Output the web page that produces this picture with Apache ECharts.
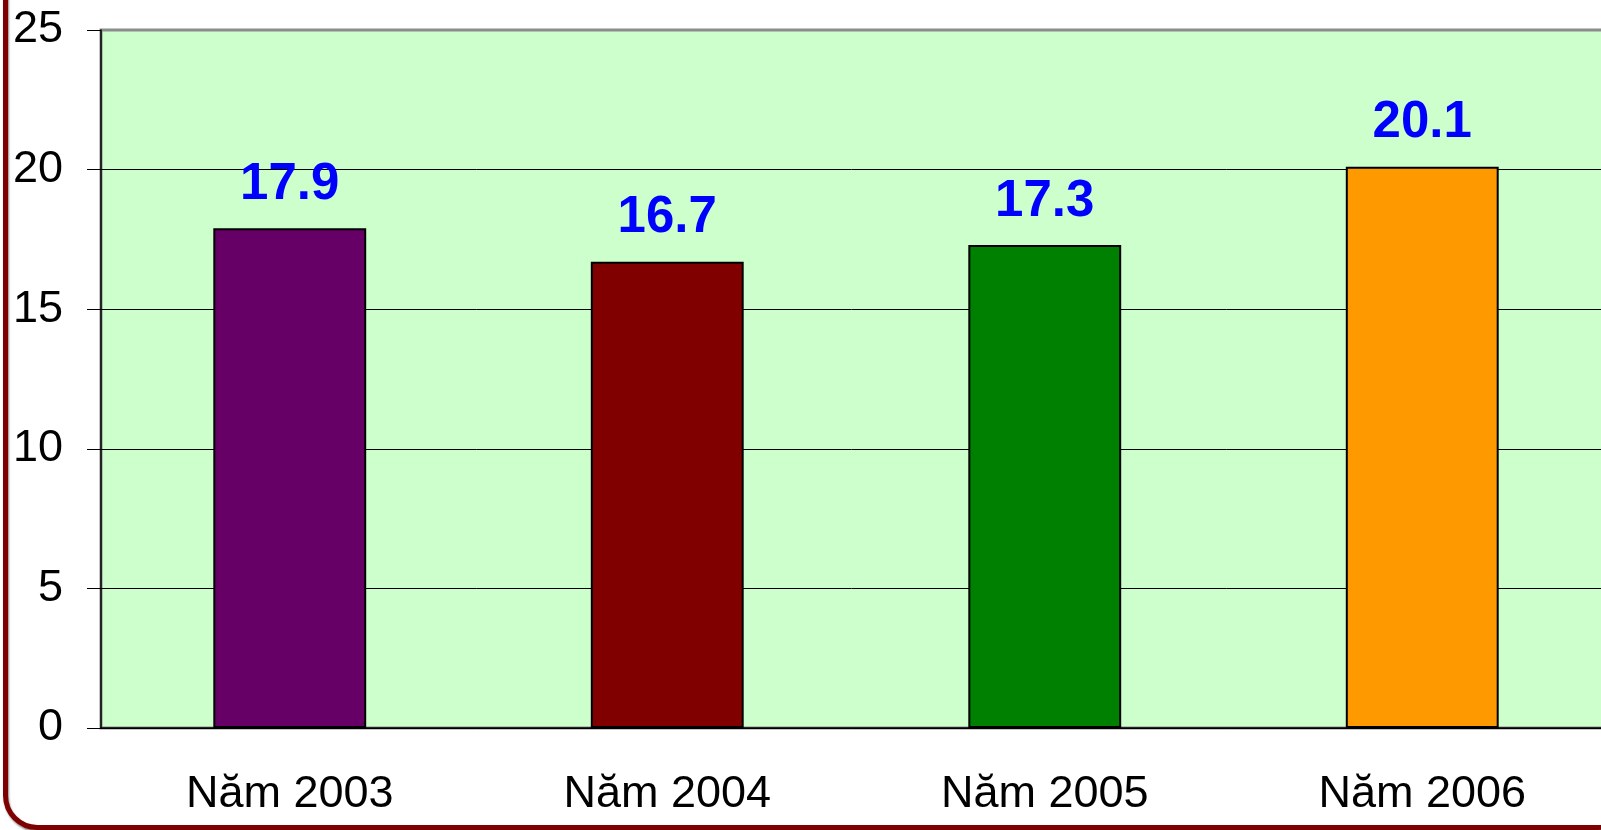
<!DOCTYPE html>
<html>
<head>
<meta charset="utf-8">
<script src="https://cdn.jsdelivr.net/npm/echarts@6/dist/echarts.min.js"></script>
<style>
  html, body { margin: 0; padding: 0; background: #fff; }
  #chart { width: 1601px; height: 830px; }
</style>
</head>
<body>
<div id="chart"></div>
<script>
// du lieu bieu do
const categories = ['Năm 2003', 'Năm 2004', 'Năm 2005', 'Năm 2006']
const values = [17.9, 16.7, 17.3, 20.1]
const barColors = ['#660066', '#800000', '#008000', '#FF9900']
const yTicks = [0, 5, 10, 15, 20, 25]

const font = 'Liberation Sans, Arial, sans-serif'
const chart = echarts.init(document.getElementById('chart'))

const option = {
  animation: false,
  grid: {
    left: 101, top: 30, width: 1510, height: 698,
    outerBoundsMode: 'none',
    containLabel: false,
    show: true,
    backgroundColor: '#CCFFCC',
    borderColor: '#8c8c8c',
    borderWidth: 3
  },
  xAxis: {
    type: 'category',
    data: categories,
    axisLine: { lineStyle: { color: '#000', width: 1.5 } },
    axisTick: { length: 14, lineStyle: { color: '#000' } },
    axisLabel: { color: '#000', fontSize: 45, fontFamily: font, margin: 44 }
  },
  yAxis: {
    type: 'value',
    min: yTicks[0],
    max: yTicks[yTicks.length - 1],
    interval: 5,
    axisLine: { show: true, lineStyle: { color: '#000', width: 1.5 } },
    axisTick: { show: true, length: 14, lineStyle: { color: '#000' } },
    axisLabel: { color: '#000', fontSize: 45, fontFamily: font, margin: 38 },
    splitLine: { lineStyle: { color: ['#000', '#000', '#000', '#000', '#000', '#8c8c8c'], width: 1 } }
  },
  series: [{
    type: 'bar',
    barWidth: '40.5%',
    data: values.map((v, i) => ({
      value: v,
      itemStyle: { color: barColors[i] }
    })),
    itemStyle: { borderColor: '#000', borderWidth: 2 },
    label: {
      show: true,
      position: 'top',
      distance: 18,
      color: '#0000FF',
      fontSize: 51,
      fontWeight: 'bold',
      fontFamily: font
    }
  }],
  graphic: [{
    type: 'rect',
    z: 100,
    shape: { x: 5.5, y: -60, width: 1624, height: 887.5, r: 32 },
    style: {
      fill: null, stroke: '#7f0000', lineWidth: 5,
      shadowColor: 'rgba(0,0,0,0.45)', shadowBlur: 2, shadowOffsetX: 1, shadowOffsetY: 2
    }
  }]
}
chart.setOption(option)
</script>
</body>
</html>
